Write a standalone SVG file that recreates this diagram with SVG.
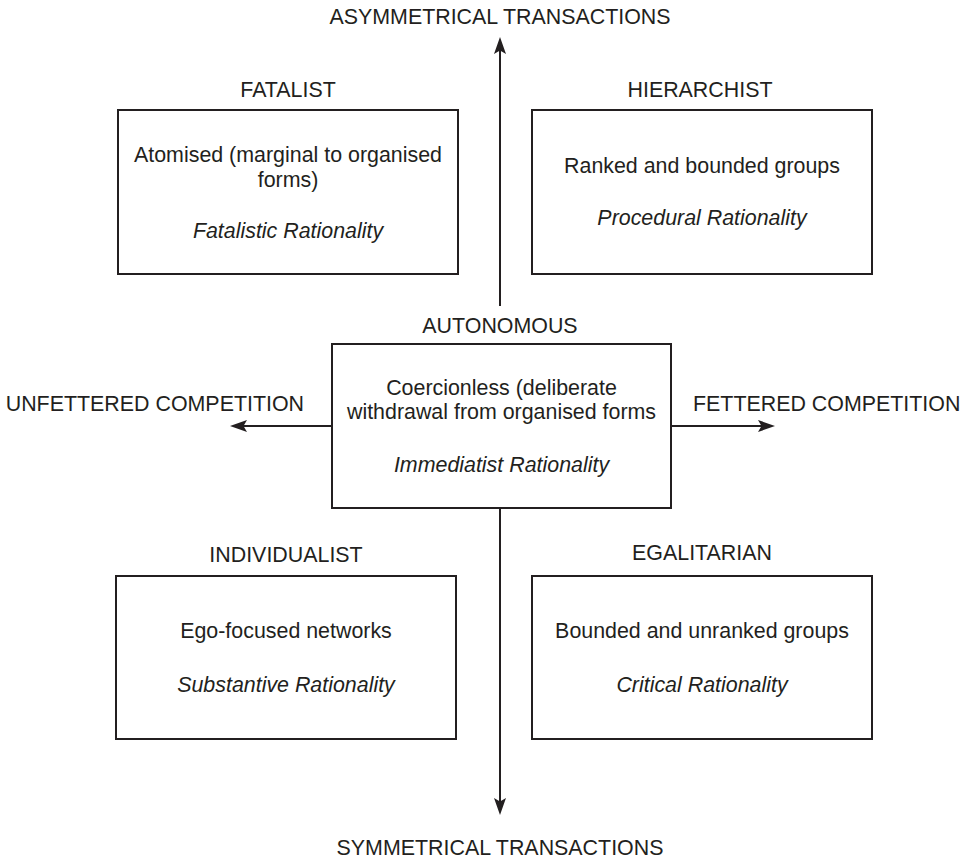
<svg xmlns="http://www.w3.org/2000/svg" width="970" height="860" viewBox="0 0 970 860">
  <style>
    text { font-family: "Liberation Sans", Arial, Helvetica, sans-serif; font-size: 21.4px; fill: #231f20; text-anchor: middle; }
    .it { font-style: italic; }
    .box { fill: #ffffff; stroke: #231f20; stroke-width: 2; }
    .axis { fill: none; stroke: #231f20; stroke-width: 2; marker-end: url(#head); }
  </style>
  <defs>
    <marker id="head" viewBox="0 0 17 12" refX="11" refY="6" markerWidth="17" markerHeight="12" markerUnits="userSpaceOnUse" orient="auto">
      <path d="M0,0 L17,6 L0,12 L3.5,6 Z" fill="#231f20"/>
    </marker>
  </defs>

  <rect width="970" height="860" fill="#ffffff"/>

  <!-- axes -->
  <g id="connectors">
    <line class="axis" x1="500" y1="306" x2="500" y2="43"/>
    <line class="axis" x1="500" y1="508" x2="500" y2="809"/>
    <line class="axis" x1="332" y1="426" x2="236" y2="426"/>
    <line class="axis" x1="671" y1="426" x2="769" y2="426"/>
  </g>

  <!-- axis labels -->
  <g id="axis-labels">
    <text x="500" y="24">ASYMMETRICAL TRANSACTIONS</text>
    <text x="500" y="855">SYMMETRICAL TRANSACTIONS</text>
    <text x="304" y="411" style="text-anchor:end">UNFETTERED COMPETITION</text>
    <text x="693" y="411" style="text-anchor:start">FETTERED COMPETITION</text>
  </g>

  <g id="fatalist">
    <text x="288" y="97">FATALIST</text>
    <rect class="box" x="118" y="110" width="340" height="164"/>
    <text x="288" y="162">Atomised (marginal to organised</text>
    <text x="288" y="187">forms)</text>
    <text class="it" x="288" y="238">Fatalistic Rationality</text>
  </g>

  <g id="hierarchist">
    <text x="700" y="97">HIERARCHIST</text>
    <rect class="box" x="532" y="110" width="340" height="164"/>
    <text x="702" y="173">Ranked and bounded groups</text>
    <text class="it" x="702" y="225">Procedural Rationality</text>
  </g>

  <g id="autonomous">
    <text x="500" y="333">AUTONOMOUS</text>
    <rect class="box" x="332" y="344" width="339" height="164"/>
    <text x="501.5" y="395">Coercionless (deliberate</text>
    <text x="501.5" y="419">withdrawal from organised forms</text>
    <text class="it" x="501.5" y="472">Immediatist Rationality</text>
  </g>

  <g id="individualist">
    <text x="286" y="562">INDIVIDUALIST</text>
    <rect class="box" x="116" y="576" width="340" height="163"/>
    <text x="286" y="638">Ego-focused networks</text>
    <text class="it" x="286" y="692">Substantive Rationality</text>
  </g>

  <g id="egalitarian">
    <text x="702" y="560">EGALITARIAN</text>
    <rect class="box" x="532" y="576" width="340" height="163"/>
    <text x="702" y="638">Bounded and unranked groups</text>
    <text class="it" x="702" y="692">Critical Rationality</text>
  </g>
</svg>
